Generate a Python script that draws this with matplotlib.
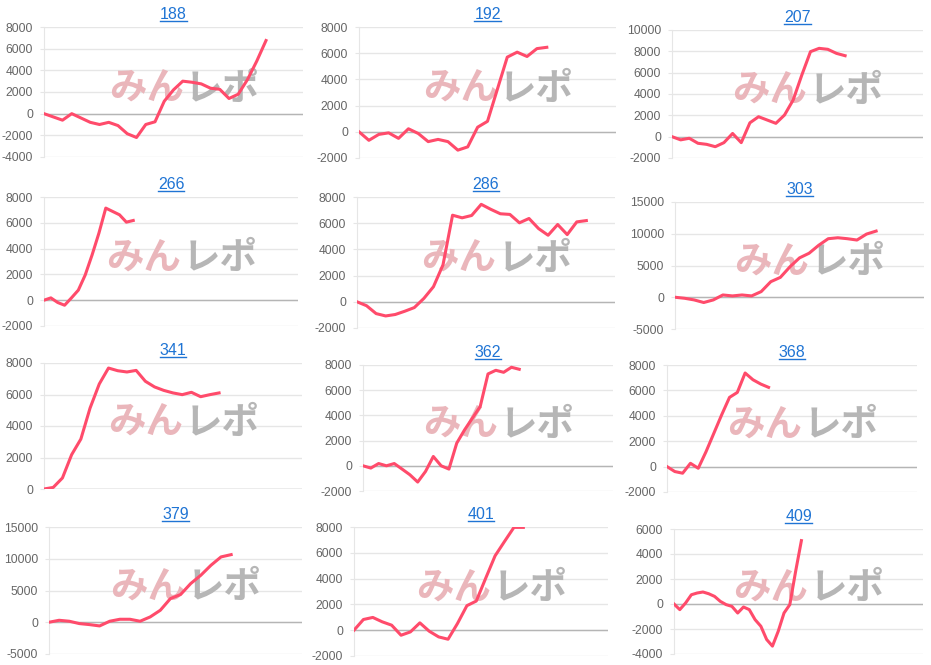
#!/usr/bin/env python3

# plot.py - 12 small balance charts in a 4x3 grid

import matplotlib
matplotlib.use("Agg")
import matplotlib.pyplot as plt
from matplotlib.lines import Line2D

titles = ["188", "192", "207", "266", "286", "303",
          "341", "362", "368", "379", "401", "409"]

s188 = [0, -300, -600, 0, -400, -800, -1000, -800, -1100, -1850, -2200, -1000, -750,
        1150, 2200, 3000, 2900, 2750, 2350, 2250, 1400, 1800, 3150, 4850, 6750]
s192 = [0, -650, -200, -80, -500, 230, -130, -750, -580, -750, -1400, -1150, 350,
        800, 3250, 5700, 6080, 5750, 6350, 6450]
s207 = [0, -300, -150, -620, -720, -940, -560, 300, -560, 1300, 1870, 1560, 1250,
        2030, 3440, 5780, 7970, 8280, 8190, 7810, 7590]
s266 = [0, 180, -180, -390, 180, 780, 1950, 3500, 5200, 7140, 6880, 6620, 6050, 6180]
s286 = [0, -300, -900, -1080, -970, -720, -440, 260, 1150, 2820, 6610, 6410, 6590,
        7440, 7060, 6720, 6670, 6030, 6360, 5590, 5080, 5900, 5130, 6100, 6200]
s303 = [0, -160, -420, -830, -420, 360, 210, 360, 210, 890, 2450, 3130, 4790, 6200,
        6930, 8180, 9220, 9370, 9220, 9010, 9950, 10420]
s341 = [0, 100, 700, 2180, 3170, 5140, 6670, 7680, 7510, 7430, 7530, 6840, 6480,
        6260, 6100, 5990, 6140, 5860, 5990, 6100]
s362 = [0, -180, 180, 0, 180, -260, -710, -1290, -450, 740, 0, -260, 1800, 2850,
        3780, 4700, 7290, 7580, 7420, 7820, 7660]
s368 = [0, -390, -520, 260, -130, 1180, 2630, 4080, 5450, 5840, 7370, 6840, 6500, 6240]
s379 = [0, 310, 160, -210, -370, -580, 160, 470, 470, 160, 840, 1890, 3730, 4360,
        6090, 7400, 8970, 10290, 10650]
s401 = [0, 830, 990, 650, 390, -390, -130, 570, -80, -520, -700, 520, 1900, 2260,
        4030, 5770, 6880, 7970, 7970]
s409 = [0, -450, 80, 740, 880, 960, 820, 610, 210, -50, -190, -720, -240, -450,
        -1250, -1780, -2840, -3370, -2180, -720, -50, 2600, 5070]

series = [s188, s192, s207, s266, s286, s303, s341, s362, s368, s379, s401, s409]

# y axis range and step, x axis slot count
y_ranges = [(-4000, 8000, 2000), (-2000, 8000, 2000), (-2000, 10000, 2000),
            (-2000, 8000, 2000), (-2000, 8000, 2000), (-5000, 15000, 5000),
            (0, 8000, 2000), (-2000, 8000, 2000), (-2000, 8000, 2000),
            (-5000, 15000, 5000), (-2000, 8000, 2000), (-4000, 6000, 2000)]
x_slots = [28, 26, 29, 37, 27, 26, 28, 32, 32, 25, 27, 43]

# plot areas in pixels: left, right, top, bottom
boxes = [(44, 303, 27, 157), (359, 616, 27, 158), (672, 923, 30, 158),
         (44, 298, 197, 326), (357, 615, 197, 328), (675, 924, 202, 329),
         (44, 302, 363, 489), (363, 613, 365, 491), (667, 917, 365, 492),
         (49, 302, 527, 654), (354, 608, 527, 656), (674, 923, 529, 654)]

W, H = 931, 665
LINE = "#ff4b6b"
GRID = "#e6e6e6"
LABEL = "#666666"
LINK = "#1f74d4"
WM_FONT = ["Noto Sans CJK JP", "DejaVu Sans"]

plt.rcParams["font.family"] = ["Liberation Sans", "DejaVu Sans"]
plt.rcParams["axes.unicode_minus"] = False

fig = plt.figure(figsize=(W / 100, H / 100), dpi=100)
fig.patch.set_facecolor("white")

axes = []
for i, vals in enumerate(series):
    l, r, t, b = boxes[i]
    ax = fig.add_axes([l / W, 1 - b / H, (r - l) / W, (b - t) / H])
    lo, hi, step = y_ranges[i]
    ax.set_ylim(lo, hi)
    ax.set_xlim(0, x_slots[i])
    ax.set_yticks(range(lo, hi + 1, step))
    ax.set_xticks([])
    ax.grid(axis="y", color=GRID, lw=1)
    ax.axhline(0, color="#b5b5b5", lw=1, zorder=2)
    for side in ["top", "right", "bottom"]:
        ax.spines[side].set_visible(False)
    ax.spines["left"].set_color(GRID)
    ax.tick_params(axis="y", colors=GRID, labelcolor=LABEL, labelsize=8.7,
                   length=3, pad=5)
    ax.set_axisbelow(True)

    # watermark
    ax.text(0.54, 0.53, "みん", transform=ax.transAxes, ha="right", va="center",
            fontsize=27, fontweight="bold", color="#eab6bb",
            family=WM_FONT, zorder=1)
    ax.text(0.545, 0.53, "レポ", transform=ax.transAxes, ha="left", va="center",
            fontsize=27, fontweight="bold", color="#b6b6b6",
            family=WM_FONT, zorder=1)

    ax.plot(range(len(vals)), vals, color=LINE, lw=2.2, zorder=3,
            solid_joinstyle="round")
    ax.set_title(titles[i], color=LINK, fontsize=11.5, pad=6)
    axes.append(ax)

# underline the link titles
fig.canvas.draw()
rend = fig.canvas.get_renderer()
for ax in axes:
    bb = ax.title.get_window_extent(rend)
    y = bb.y0 + 1
    fig.add_artist(Line2D([bb.x0 / W, bb.x1 / W], [y / H, y / H],
                          color=LINK, lw=1, transform=fig.transFigure))

fig.savefig("out.png", dpi=100)
